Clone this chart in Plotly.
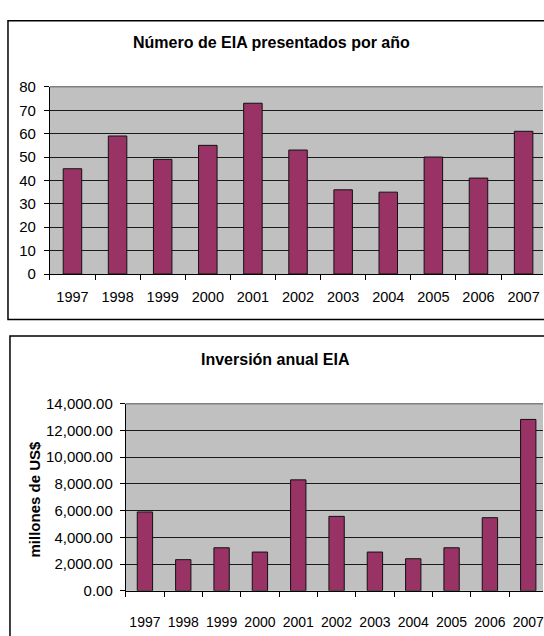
import plotly.graph_objects as go

# Annual EIA figures, 1997-2007
years = ["1997", "1998", "1999", "2000", "2001", "2002", "2003", "2004", "2005", "2006", "2007"]
eia_count = [45, 59, 49, 55, 73, 53, 36, 35, 50, 41, 61]
eia_investment = [5900, 2330, 3220, 2900, 8300, 5570, 2900, 2400, 3220, 5470, 12820]

W, H = 544, 636
FONT = "Liberation Sans, Arial, sans-serif"
BAR = "#993366"
PLOT_BG = "#C0C0C0"


def px_x(x):
    return x / W


def px_y(y):
    return 1 - y / H


def tick_font(size):
    return dict(family=FONT, size=size, color="black")


fig = go.Figure()

fig.add_trace(go.Bar(
    x=years, y=eia_count, xaxis="x", yaxis="y", width=0.41,
    marker=dict(color=BAR, line=dict(color="#111111", width=1)),
    hoverinfo="x+y", showlegend=False,
))
fig.add_trace(go.Bar(
    x=years, y=eia_investment, xaxis="x2", yaxis="y2", width=0.4,
    marker=dict(color=BAR, line=dict(color="#111111", width=1)),
    hoverinfo="x+y", showlegend=False,
))

axis_common = dict(
    showline=True, linecolor="black", linewidth=1,
    ticks="outside", tickcolor="black", ticklen=5, tickwidth=1,
    zeroline=False, fixedrange=True,
)

fig.update_layout(
    width=W, height=H,
    margin=dict(l=0, r=0, t=0, b=0),
    paper_bgcolor="white",
    plot_bgcolor=PLOT_BG,
    font=dict(family=FONT, color="black"),
    xaxis=dict(
        **axis_common, tickfont=tick_font(14.5),
        type="category", domain=[px_x(50), 1.0],
        range=[-0.5, 10.43], tickson="boundaries", showgrid=False,
        anchor="y", ticklabelstandoff=10, tickangle=0,
    ),
    yaxis=dict(
        **axis_common, tickfont=tick_font(15),
        domain=[px_y(272.3), px_y(80)], range=[0, 80],
        tickvals=[0, 10, 20, 30, 40, 50, 60, 70, 80],
        showgrid=True, gridcolor="#1a1a1a", gridwidth=1, anchor="x",
        ticklabelstandoff=5,
    ),
    xaxis2=dict(
        **axis_common, tickfont=tick_font(14),
        type="category", domain=[px_x(126), 1.0],
        range=[-0.5, 10.385], tickson="boundaries", showgrid=False,
        anchor="y2", ticklabelstandoff=18, tickangle=0,
    ),
    yaxis2=dict(
        **axis_common, tickfont=tick_font(15),
        domain=[px_y(597.8), px_y(405.5)], range=[0, 14000],
        tickvals=[0, 2000, 4000, 6000, 8000, 10000, 12000, 14000],
        tickformat=",.2f",
        showgrid=True, gridcolor="#1a1a1a", gridwidth=1, anchor="x2",
        ticklabelstandoff=4,
    ),
    bargap=0.6,
)

# Chart-area frames
fig.add_shape(type="rect", xref="paper", yref="paper",
              x0=px_x(8), x1=1.1, y0=px_y(319), y1=px_y(12),
              line=dict(color="black", width=1.5), fillcolor="rgba(0,0,0,0)", layer="above")
fig.add_shape(type="rect", xref="paper", yref="paper",
              x0=px_x(10), x1=1.1, y0=-0.1, y1=px_y(336),
              line=dict(color="black", width=1.5), fillcolor="rgba(0,0,0,0)", layer="above")

# Grey top edge of each plot area
for xr, yr in (("x domain", "y domain"), ("x2 domain", "y2 domain")):
    fig.add_shape(type="line", xref=xr, yref=yr, x0=0, x1=1, y0=1, y1=1,
                  line=dict(color="#808080", width=1.5), layer="above")

# Titles
fig.add_annotation(text="<b>Número de EIA presentados por año</b>", xref="paper", yref="paper",
                   x=px_x(272), y=px_y(34), xanchor="center", yanchor="middle",
                   showarrow=False, font=dict(family=FONT, size=16, color="black"))
fig.add_annotation(text="<b>Inversión anual EIA</b>", xref="paper", yref="paper",
                   x=px_x(276), y=px_y(360), xanchor="center", yanchor="middle",
                   showarrow=False, font=dict(family=FONT, size=16, color="black"))
fig.add_annotation(text="<b>millones de US$</b>", xref="paper", yref="paper",
                   x=px_x(35), y=px_y(503), xanchor="center", yanchor="middle",
                   showarrow=False, textangle=-90,
                   font=dict(family=FONT, size=15, color="black"))

fig.write_html("out.html", config={"displayModeBar": False})
